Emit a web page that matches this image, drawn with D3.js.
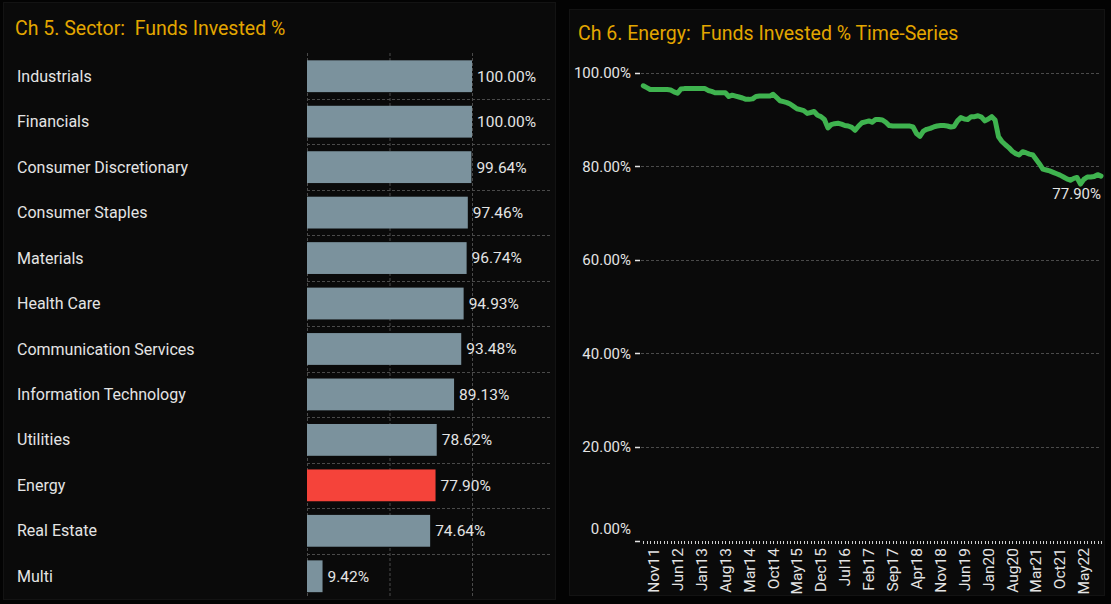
<!DOCTYPE html>
<html>
<head>
<meta charset="utf-8">
<script src="https://cdn.jsdelivr.net/npm/d3@7"></script>
<style>
  body { margin: 0; background: #030303; }
  svg { display: block; }
  text { font-family: Roboto, "DejaVu Sans Condensed", sans-serif; }
</style>
</head>
<body>
<div id="chart"></div>
<script>
// Sector bar chart data
var sectors = ["Industrials", "Financials", "Consumer Discretionary", "Consumer Staples",
  "Materials", "Health Care", "Communication Services", "Information Technology",
  "Utilities", "Energy", "Real Estate", "Multi"];
var sectorValues = [100.00, 100.00, 99.64, 97.46, 96.74, 94.93, 93.48, 89.13, 78.62, 77.90, 74.64, 9.42];
var highlightSector = "Energy";

// Energy time series, monthly Aug 2011 .. Oct 2022
var startMonth = new Date(2011, 7, 1);
var energySeries = [
  97.2, 96.8, 96.4, 96.4, 96.4, 96.4, 96.4, 96.4, 96.3, 95.9,
  95.6, 96.5, 96.6, 96.6, 96.6, 96.6, 96.6, 96.6, 96.6, 96.2,
  96.0, 95.7, 95.7, 95.7, 95.7, 94.9, 95.2, 95.0, 94.8, 94.6,
  94.3, 94.3, 94.4, 94.9, 95.0, 95.0, 95.0, 95.0, 95.4, 94.7,
  94.0, 93.8, 93.6, 93.3, 92.8, 92.3, 92.1, 91.9, 91.3, 91.5,
  91.7, 90.9, 90.6, 90.0, 88.2, 88.9, 89.1, 89.2, 89.0, 88.7,
  88.6, 88.3, 87.7, 88.6, 89.3, 89.5, 89.7, 89.4, 90.0, 90.0,
  89.9, 89.4, 88.7, 88.6, 88.6, 88.6, 88.6, 88.6, 88.6, 88.4,
  87.0, 86.4, 87.5, 87.9, 88.1, 88.4, 88.6, 88.7, 88.7, 88.6,
  88.4, 88.5, 89.7, 90.4, 90.1, 90.0, 90.6, 90.6, 90.8, 90.5,
  89.7, 90.1, 90.6, 89.9, 86.3, 85.3, 84.6, 84.0, 83.2, 82.7,
  82.4, 83.1, 82.9, 82.6, 82.4, 81.5, 80.5, 79.4, 79.2, 79.0,
  78.7, 78.4, 78.1, 77.7, 77.3, 77.0, 77.4, 77.6, 76.2, 77.2,
  77.7, 77.7, 77.8, 78.2, 77.9
];
var yTicks = [0, 20, 40, 60, 80, 100];

var width = 1111, height = 604;
var titleColor = "#e3a600",
    textColor = "#e4e4e4",
    gridColor = "#4a4a4a";

var svg = d3.select("#chart").append("svg")
  .attr("width", width)
  .attr("height", height);

// panels
svg.append("rect").attr("x", 3.5).attr("y", 2.5).attr("width", 552).attr("height", 597)
  .attr("fill", "#0a0a0a").attr("stroke", "#131313");
svg.append("rect").attr("x", 569.5).attr("y", 9.5).attr("width", 535).attr("height", 586)
  .attr("fill", "#0a0a0a").attr("stroke", "#131313");

// titles
svg.append("text").attr("x", 15).attr("y", 35)
  .style("white-space", "pre").style("font-size", "19.5px").attr("fill", titleColor)
  .text("Ch 5. Sector:  Funds Invested %");
svg.append("text").attr("x", 578).attr("y", 40)
  .style("white-space", "pre").style("font-size", "19.5px").attr("fill", titleColor)
  .text("Ch 6. Energy:  Funds Invested % Time-Series");

// ---------- Left: bar chart ----------
var x = d3.scaleLinear().domain([0, 100]).range([307, 472]);
var y = d3.scaleBand().domain(sectors).range([53.5, 599]).paddingInner(0.3).paddingOuter(0.15);
var step = y.step();

var left = svg.append("g");

// vertical grid
left.selectAll(".vgrid").data([0, 50, 100]).enter().append("line")
  .attr("x1", function(d) { return x(d) + 0.5; })
  .attr("x2", function(d) { return x(d) + 0.5; })
  .attr("y1", 53).attr("y2", 598)
  .attr("stroke", gridColor).attr("stroke-dasharray", "3,2");

// horizontal grid between rows
left.selectAll(".hgrid").data(sectors.slice(1)).enter().append("line")
  .attr("x1", 307).attr("x2", 550)
  .attr("y1", function(d) { return Math.round(y(d) - step * 0.3 / 2) + 0.5; })
  .attr("y2", function(d) { return Math.round(y(d) - step * 0.3 / 2) + 0.5; })
  .attr("stroke", gridColor).attr("stroke-dasharray", "3,2");

left.selectAll(".bar").data(sectors).enter().append("rect")
  .attr("x", x(0))
  .attr("y", function(d) { return y(d); })
  .attr("width", function(d, i) { return x(sectorValues[i]) - x(0); })
  .attr("height", y.bandwidth())
  .attr("fill", function(d) { return d === highlightSector ? "#f5433a" : "#7b929d"; });

left.selectAll(".cat").data(sectors).enter().append("text")
  .attr("x", 17)
  .attr("y", function(d) { return y(d) + y.bandwidth() / 2; })
  .attr("dy", "0.35em")
  .style("font-size", "16px")
  .attr("fill", textColor)
  .text(function(d) { return d; });

left.selectAll(".val").data(sectors).enter().append("text")
  .attr("x", function(d, i) { return x(sectorValues[i]) + 5; })
  .attr("y", function(d) { return y(d) + y.bandwidth() / 2; })
  .attr("dy", "0.35em")
  .style("font-size", "15.5px")
  .attr("fill", textColor)
  .text(function(d, i) { return sectorValues[i].toFixed(2) + "%"; });

// ---------- Right: time series ----------
var dates = energySeries.map(function(v, i) { return d3.timeMonth.offset(startMonth, i); });
var xt = d3.scaleTime().domain([dates[0], dates[dates.length - 1]]).range([643.3, 1101]);
var yt = d3.scaleLinear().domain([0, 100]).range([540.5, 72.7]);
var plotLeft = 641, plotRight = 1101;

var right = svg.append("g");

right.selectAll(".ygrid").data(yTicks.filter(function(d) { return d > 0; })).enter().append("line")
  .attr("x1", plotLeft).attr("x2", plotRight)
  .attr("y1", function(d) { return Math.round(yt(d)) + 0.5; })
  .attr("y2", function(d) { return Math.round(yt(d)) + 0.5; })
  .attr("stroke", gridColor).attr("stroke-dasharray", "3,2");

// y ticks + labels
right.selectAll(".ytick").data(yTicks).enter().append("line")
  .attr("x1", plotLeft - 6).attr("x2", plotLeft - 1)
  .attr("y1", function(d) { return Math.round(yt(d)) + 0.5; })
  .attr("y2", function(d) { return Math.round(yt(d)) + 0.5; })
  .attr("stroke", textColor).attr("stroke-width", 1.5);

right.selectAll(".ylab").data(yTicks).enter().append("text")
  .attr("x", 631)
  .attr("y", function(d) { return yt(d) - (d === 0 ? 12 : 0); })
  .attr("dy", "0.35em")
  .attr("text-anchor", "end")
  .style("font-size", "15px")
  .attr("fill", textColor)
  .text(function(d) { return d.toFixed(2) + "%"; });

// monthly x ticks
right.selectAll(".xtick").data(dates).enter().append("line")
  .attr("x1", function(d) { return Math.round(xt(d)) + 0.5; })
  .attr("x2", function(d) { return Math.round(xt(d)) + 0.5; })
  .attr("y1", 541).attr("y2", 544)
  .attr("stroke", "#cfcfcf");

var fmt = d3.timeFormat("%b%y");
var labelDates = dates.filter(function(d, i) { return i >= 3 && (i - 3) % 7 === 0; });
right.selectAll(".xlab").data(labelDates).enter().append("text")
  .attr("transform", function(d) { return "translate(" + xt(d) + ",548) rotate(-90)"; })
  .attr("dy", "0.35em")
  .attr("text-anchor", "end")
  .style("font-size", "15.5px")
  .attr("fill", textColor)
  .text(function(d) { return fmt(d); });

var line = d3.line()
  .x(function(d, i) { return xt(dates[i]); })
  .y(function(d) { return yt(d); });

right.append("path")
  .datum(energySeries)
  .attr("d", line)
  .attr("fill", "none")
  .attr("stroke", "#3fb34f")
  .attr("stroke-width", 5)
  .attr("stroke-linejoin", "round")
  .attr("stroke-linecap", "round");

var last = energySeries[energySeries.length - 1];
right.append("text")
  .attr("x", xt(dates[dates.length - 1]))
  .attr("y", yt(last) + 23)
  .attr("text-anchor", "end")
  .style("font-size", "15px")
  .attr("fill", textColor)
  .text(last.toFixed(2) + "%");
</script>
</body>
</html>
